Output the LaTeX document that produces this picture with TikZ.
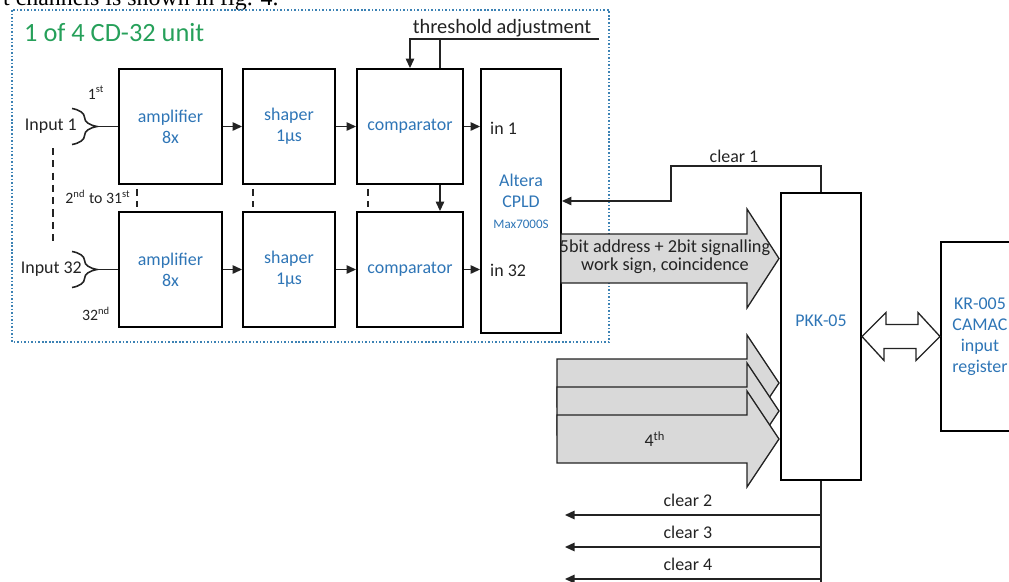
\documentclass[tikz,border=0pt]{standalone}
\usepackage{fontspec}
\setmainfont{Carlito}
\newfontfamily\paperfont{Liberation Serif}
\usetikzlibrary{arrows.meta, positioning, calc, decorations.pathreplacing}
\definecolor{bluecd}{RGB}{46,117,182}
\definecolor{greencd}{RGB}{38,160,90}
\definecolor{framecd}{RGB}{60,130,180}
\definecolor{graycd}{RGB}{217,217,217}
\definecolor{inkcd}{RGB}{35,35,35}

\begin{document}
\begin{tikzpicture}[x=0.02cm, y=-0.02cm, font=\fontsize{10.2}{12}\selectfont, text=inkcd,
    blk/.style={draw=black, line width=1.1pt, minimum height=2.3cm, align=center, text=bluecd},
    sig/.style={draw=inkcd, line width=0.75pt, -{Triangle[length=1.9mm, width=1.7mm]}},
    wire/.style={draw=inkcd, line width=0.75pt},
    fat/.style={draw=inkcd, line width=0.75pt, fill=graycd, line join=miter},
    brc/.style={draw=inkcd, line width=0.9pt, decorate, decoration={brace, amplitude=0.5cm, aspect=0.5}},
    dsh/.style={draw=inkcd, line width=0.75pt, dash pattern=on 4pt off 3pt},
    small/.style={font=\fontsize{9}{11}\selectfont}]
        \useasboundingbox (0,0) rectangle (1009,582);
        \clip (0,0) rectangle (1009,582);
        \node[font=\paperfont\fontsize{13.6}{15}\selectfont, anchor=base west, text=black] (caption) at (-3,5) {t channels is shown in fig. 4.};
        \draw[framecd, line width=1.3pt, dash pattern=on 0.9pt off 1.1pt] (12,10) rectangle (609,342);
        \node[font=\fontsize{15}{17}\selectfont, text=greencd, anchor=west] (title) at (18,33) {1 of 4 CD-32 unit};
        \foreach \r/\y in {1/126.5, 2/269.5}
        {
            \foreach \n/\x/\w/\txt in {
                amp/170.5/2.06cm/{amplifier\\8x},
                shaper/289/1.84cm/{shaper\\1µs},
                comp/410/2.12cm/{comparator}}
            {
                \node[blk, minimum width=\w] (\n\r) at (\x,\y) {\txt};
            }
        }
        \node[blk, minimum width=1.6cm, minimum height=5.28cm] (altera) at (521,201) {Altera\\CPLD\\{\fontsize{7.4}{9}\selectfont Max7000S}};
        \node[anchor=west] (in1) at (484,128) {in 1};
        \node[anchor=west] (in32) at (484,270) {in 32};
        \node[blk, minimum width=1.6cm, minimum height=5.74cm] (pkk) at (821,336.5) {};
        \node[text=bluecd] (pkklbl) at (821,321) {PKK-05};
        \node[blk, minimum width=1.56cm, minimum height=3.78cm] (kr) at (980,336.5) {KR-005\\CAMAC\\input\\register};
        \foreach \r in {1,2}
        {
            \draw[sig] (amp\r) -- (shaper\r);
            \draw[sig] (shaper\r) -- (comp\r);
            \draw[sig] (comp\r) -- (comp\r.east -| altera.west);
        }
        \coordinate (thr) at (599,39);
        \coordinate (tb) at (440,39);
        \draw[sig] (thr) -- (thr -| comp1.north) -- (comp1.north);
        \draw[wire] (tb) -- (tb |- comp1.north);
        \draw[sig] (comp1.south -| tb) -- (comp2.north -| tb);
        \node[font=\fontsize{11.6}{13}\selectfont] (thrlbl) at (502,28) {threshold adjustment};
        \foreach \r/\lbl/\dx in {1/{Input 1}/-35, 2/{Input 32}/-30}
        {
            \draw[brc] ($(amp\r.west)+(-46,-18)$) -- ($(amp\r.west)+(-46,18)$);
            \draw[wire] ($(amp\r.west)+(-21,0)$) -- (amp\r.west);
            \node[anchor=east] (inp\r) at ($(amp\r.west)+(\dx,0)$) {\lbl};
        }
        \node[small] (first) at (96,93) {1\textsuperscript{st}};
        \node[small] (middle) at (98,197) {2\textsuperscript{nd} to 31\textsuperscript{st}};
        \node[small] (last) at (96,314) {32\textsuperscript{nd}};
        \draw[dsh] (53,148) -- (53,243);
        \foreach \a/\b/\dx in {amp1/amp2/19, shaper1/shaper2/11, comp1/comp2/12}
        {
            \draw[dsh] ($(\a.south west)+(\dx,4)$) -- ($(\b.north west)+(\dx,-4)$);
        }
        \draw[fat] (561,234) -- (747,234) -- (747,209) -- (779,258.5) -- (747,308) -- (747,283) -- (561,283) -- cycle;
        \node[align=center, font=\fontsize{10.4}{10.3}\selectfont] (bus) at (665,257) {5bit address + 2bit signalling\\work sign, coincidence};
        \foreach \y in {383, 411, 439}
        {
            \draw[fat] (557,\y-24) -- (747,\y-24) -- (747,\y-48) -- (779,\y) -- (747,\y+48) -- (747,\y+24) -- (557,\y+24) -- cycle;
        }
        \node (fourth) at (655,439) {4\textsuperscript{th}};
        \draw[wire, fill=white, line join=miter] (pkk.east) -- ++(24,-24) -- ++(0,12) -- ++(32,0) -- ++(0,-12) -- (kr.west) -- ++(-24,24) -- ++(0,-12) -- ++(-32,0) -- ++(0,12) -- cycle;
        \draw[sig] (pkk.north) |- (671,166) |- (altera.east);
        \node (clr1lbl) at (734,156) {clear 1};
        \draw[wire] (pkk.south) -- (821,600);
        \foreach \i/\y in {2/515, 3/547, 4/579}
        {
            \coordinate (clr\i) at (565,\y);
            \draw[sig] (pkk.south |- clr\i) -- (clr\i) node[pos=0.52, above=1pt] {clear \i};
        }
    \end{tikzpicture}
\end{document}
